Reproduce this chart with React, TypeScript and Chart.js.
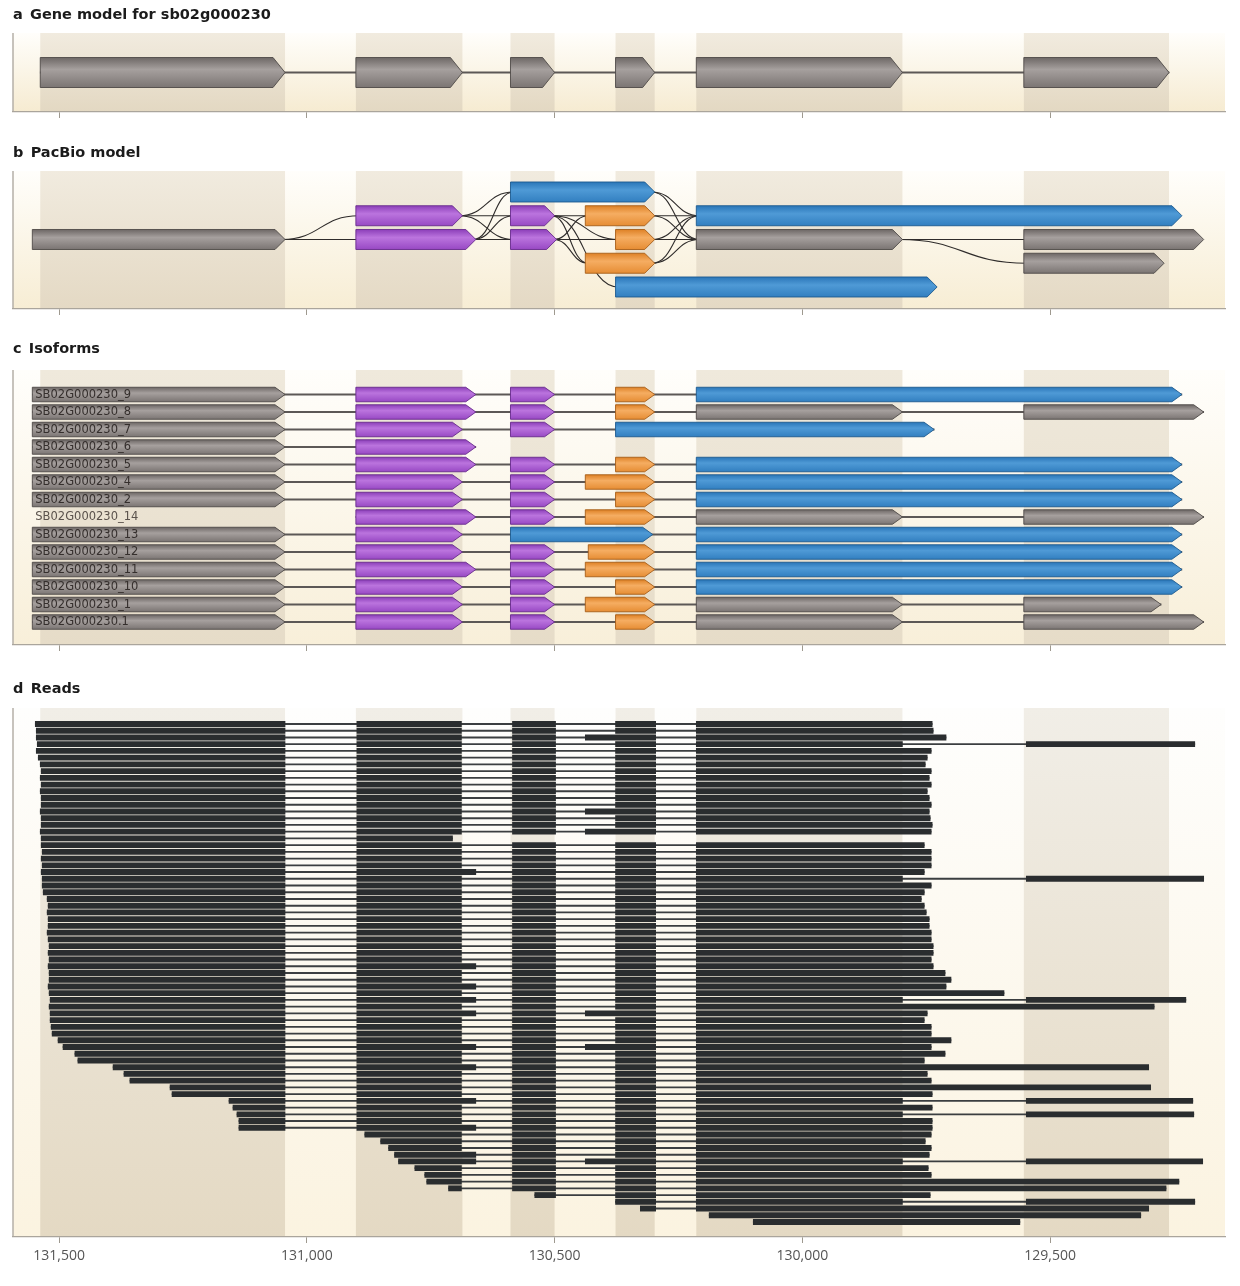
import { useEffect, useRef } from "react";
import { Chart, registerables } from "chart.js";

Chart.register(...registerables);

// genomic window (bp), axis runs high -> low
const X_MIN = 129147;
const X_MAX = 131593;
const tickValues = [131500, 131000, 130500, 130000, 129500];

// a: gene model exons [start, end]
const geneExons = [
  [131538, 131044],
  [130901, 130686],
  [130589, 130500],
  [130377, 130298],
  [130214, 129798],
  [129553, 129260],
];

// b: PacBio splice graph, [start, end, row]
const pacGray = [
  [131554, 131044, 2],
  [130214, 129798, 2],
  [129553, 129190, 2],
  [129553, 129270, 3],
];
const pacPurple = [
  [130901, 130686, 1],
  [130589, 130500, 1],
  [130901, 130659, 2],
  [130589, 130496, 2],
];
const pacOrange = [
  [130438, 130298, 1],
  [130377, 130298, 2],
  [130438, 130298, 3],
];
const pacBlue = [
  [130589, 130298, 0],
  [130214, 129234, 1],
  [130377, 129728, 4],
];
// junctions [fromBp, fromRow, toBp, toRow]
const pacLinks = [
  [131044, 2, 130901, 1],
  [131044, 2, 130901, 2],
  [130686, 1, 130589, 0],
  [130686, 1, 130589, 1],
  [130686, 1, 130589, 2],
  [130659, 2, 130589, 0],
  [130659, 2, 130589, 1],
  [130659, 2, 130589, 2],
  [130500, 1, 130438, 1],
  [130500, 1, 130377, 2],
  [130500, 1, 130438, 3],
  [130500, 1, 130377, 4],
  [130496, 2, 130438, 1],
  [130496, 2, 130377, 2],
  [130496, 2, 130438, 3],
  [130298, 0, 130214, 1],
  [130298, 0, 130214, 2],
  [130298, 1, 130214, 1],
  [130298, 1, 130214, 2],
  [130298, 2, 130214, 1],
  [130298, 2, 130214, 2],
  [130298, 3, 130214, 1],
  [130298, 3, 130214, 2],
  [129798, 2, 129553, 2],
  [129798, 2, 129553, 3],
];

// c: isoforms
const isoformNames = [
  "SB02G000230_9",
  "SB02G000230_8",
  "SB02G000230_7",
  "SB02G000230_6",
  "SB02G000230_5",
  "SB02G000230_4",
  "SB02G000230_2",
  "SB02G000230_14",
  "SB02G000230_13",
  "SB02G000230_12",
  "SB02G000230_11",
  "SB02G000230_10",
  "SB02G000230_1",
  "SB02G000230.1",
];
const isoGray = [
  [131554, 131044, 0], [131554, 131044, 1], [131554, 131044, 2], [131554, 131044, 3],
  [131554, 131044, 4], [131554, 131044, 5], [131554, 131044, 6], [131554, 131044, 8],
  [131554, 131044, 9], [131554, 131044, 10], [131554, 131044, 11], [131554, 131044, 12],
  [131554, 131044, 13],
  [130214, 129798, 1], [129553, 129190, 1],
  [130214, 129798, 7], [129553, 129190, 7],
  [130214, 129798, 12], [129553, 129276, 12],
  [130214, 129798, 13], [129553, 129190, 13],
];
const isoPurple = [
  [130901, 130659, 0], [130589, 130500, 0],
  [130901, 130659, 1], [130589, 130500, 1],
  [130901, 130686, 2], [130589, 130500, 2],
  [130901, 130659, 3],
  [130901, 130659, 4], [130589, 130500, 4],
  [130901, 130686, 5], [130589, 130500, 5],
  [130901, 130686, 6], [130589, 130500, 6],
  [130901, 130659, 7], [130589, 130500, 7],
  [130901, 130686, 8],
  [130901, 130686, 9], [130589, 130500, 9],
  [130901, 130659, 10], [130589, 130500, 10],
  [130901, 130686, 11], [130589, 130500, 11],
  [130901, 130686, 12], [130589, 130500, 12],
  [130901, 130686, 13], [130589, 130500, 13],
];
const isoOrange = [
  [130377, 130298, 0], [130377, 130298, 1], [130377, 130298, 4], [130438, 130298, 5],
  [130377, 130298, 6], [130438, 130298, 7], [130432, 130298, 9], [130438, 130298, 10],
  [130377, 130298, 11], [130438, 130298, 12], [130377, 130298, 13],
];
const isoBlue = [
  [130214, 129234, 0], [130377, 129734, 2], [130214, 129234, 4], [130214, 129234, 5],
  [130214, 129234, 6], [130589, 130302, 8], [130214, 129234, 8], [130214, 129234, 9],
  [130214, 129234, 10], [130214, 129234, 11],
];

// d: reads, one per row (top to bottom)
const readStarts = [
  131548, 131546, 131546, 131544, 131546, 131542, 131538, 131536, 131538, 131536,
  131538, 131536, 131536, 131538, 131536, 131536, 131538, 131536, 131536, 131534,
  131536, 131534, 131536, 131534, 131534, 131532, 131524, 131522, 131524, 131522,
  131522, 131524, 131522, 131520, 131522, 131520, 131522, 131520, 131520, 131522,
  131520, 131518, 131520, 131518, 131518, 131516, 131514, 131502, 131492, 131468,
  131462, 131391, 131369, 131357, 131276, 131272, 131157, 131149, 131141, 131137,
  131137, 130883, 130851, 130835, 130823, 130815, 130782, 130762, 130758, 130714,
  130540, 130377, 130327, 130188, 130099,
];
const readEnds = [
  129738, 129736, 129710, 129208, 129740, 129748, 129752, 129740, 129744, 129740,
  129748, 129744, 129740, 129744, 129742, 129738, 129740, 130706, 129754, 129740,
  129740, 129740, 129754, 129190, 129740, 129754, 129760, 129754, 129750, 129744,
  129744, 129740, 129740, 129736, 129736, 129740, 129736, 129712, 129700, 129710,
  129593, 129226, 129290, 129748, 129754, 129740, 129740, 129700, 129740, 129712,
  129754, 129301, 129748, 129740, 129297, 129738, 129212, 129738, 129210, 129738,
  129738, 129740, 129752, 129740, 129744, 129192, 129746, 129740, 129240, 129266,
  129742, 129208, 129301, 129317, 129561,
];
// read exon template and per-read alternatives
const readExons = [
  [131600, 131044],
  [130899, 130688],
  [130585, 130498],
  [130377, 130296],
  [130214, 129798],
  [129548, 129100],
];
const longDonorRows = [22, 36, 39, 41, 43, 48, 51, 56, 60, 64, 65]; // exon 2 ends at 130,659
const longAcceptorRows = [2, 13, 16, 43, 48, 65]; // exon 4 starts at 130,438
const splicedRows = [3, 23, 41, 56, 58, 65, 71]; // last intron spliced out

const GRAY = ["#6d6765", "#a6a09e", "#7b7573", "#4e4947"];
const PURPLE = ["#8c3fb9", "#bb74de", "#9849c4", "#682a8c"];
const ORANGE = ["#de8126", "#f5ad62", "#e68d34", "#a65d18"];
const BLUE = ["#2a76b8", "#4f9ad6", "#327fc0", "#1d5a8f"];

const bars = (list: number[][]) => list.map(([a, b, r]) => ({ x: [a, b], y: r }));

function rowSpans(lists: number[][][], rows: number) {
  const out: { x: number[]; y: number }[] = [];
  for (let r = 0; r < rows; r++) {
    const all = lists.flat().filter((e) => e[2] === r);
    if (!all.length) continue;
    out.push({ x: [Math.max(...all.map((e) => e[0])), Math.min(...all.map((e) => e[1]))], y: r });
  }
  return out;
}

function readBlocks() {
  const out: { x: number[]; y: number }[] = [];
  readStarts.forEach((s, i) => {
    const e = readEnds[i];
    const spliced = splicedRows.includes(i);
    readExons.forEach(([a, b], k) => {
      if (k === 1 && longDonorRows.includes(i)) b = 130659;
      if (k === 3 && longAcceptorRows.includes(i)) a = 130438;
      if (k === 4 && !spliced) b = e;
      if (k === 5 && !spliced) return;
      const l = Math.min(a, s);
      const r = Math.max(b, e);
      if (l > r) out.push({ x: [l, r], y: i });
    });
  });
  return out;
}

const backdrop = {
  id: "backdrop",
  beforeDraw(chart: any, _a: any, o: any) {
    const { ctx, chartArea: ca } = chart;
    const xs = chart.scales.x;
    ctx.save();
    const bg = ctx.createLinearGradient(0, ca.top, 0, ca.bottom);
    bg.addColorStop(0, o.bg[0]);
    bg.addColorStop(1, o.bg[1]);
    ctx.fillStyle = bg;
    ctx.fillRect(ca.left, ca.top, ca.right - ca.left, ca.bottom - ca.top);
    const col = ctx.createLinearGradient(0, ca.top, 0, ca.bottom);
    col.addColorStop(0, o.col[0]);
    col.addColorStop(1, o.col[1]);
    ctx.fillStyle = col;
    geneExons.forEach(([a, b]) => {
      const x1 = xs.getPixelForValue(a);
      const x2 = xs.getPixelForValue(b);
      ctx.fillRect(Math.min(x1, x2), ca.top, Math.abs(x2 - x1), ca.bottom - ca.top);
    });
    ctx.strokeStyle = "#b4afa7";
    ctx.lineWidth = 1.5;
    ctx.beginPath();
    ctx.moveTo(ca.left, ca.top);
    ctx.lineTo(ca.left, ca.bottom);
    ctx.stroke();
    ctx.restore();
  },
};

const arrows = {
  id: "arrows",
  beforeDatasetDraw(chart: any, args: any) {
    const ds = chart.data.datasets[args.index];
    if (!ds.arrow) return;
    const ctx = chart.ctx;
    const pal = ds.arrow;
    ctx.save();
    for (const el of args.meta.data) {
      const left = Math.min(el.x, el.base);
      const right = Math.max(el.x, el.base);
      const h = el.height;
      const top = el.y - h / 2;
      const bot = el.y + h / 2;
      const tip = Math.min(ds.tip, (right - left) * 0.5);
      ctx.beginPath();
      ctx.moveTo(left, top);
      ctx.lineTo(right - tip, top);
      ctx.lineTo(right, el.y);
      ctx.lineTo(right - tip, bot);
      ctx.lineTo(left, bot);
      ctx.closePath();
      const g = ctx.createLinearGradient(0, top, 0, bot);
      g.addColorStop(0, pal[0]);
      g.addColorStop(0.4, pal[1]);
      g.addColorStop(1, pal[2]);
      ctx.fillStyle = g;
      ctx.fill();
      ctx.lineWidth = 0.9;
      ctx.strokeStyle = pal[3];
      ctx.stroke();
    }
    ctx.restore();
    return false;
  },
};

const junctions = {
  id: "junctions",
  beforeDatasetsDraw(chart: any, _a: any, o: any) {
    if (!o.links) return;
    const { ctx } = chart;
    const xs = chart.scales.x;
    const ys = chart.scales.y;
    ctx.save();
    ctx.strokeStyle = "#2f2c2b";
    ctx.lineWidth = 1.1;
    for (const [a, ra, b, rb] of o.links) {
      const x1 = xs.getPixelForValue(a);
      const y1 = ys.getPixelForValue(ra);
      const x2 = xs.getPixelForValue(b);
      const y2 = ys.getPixelForValue(rb);
      const m = (x2 - x1) * 0.5;
      ctx.beginPath();
      ctx.moveTo(x1 - 3, y1);
      ctx.bezierCurveTo(x1 + m, y1, x2 - m, y2, x2 + 3, y2);
      ctx.stroke();
    }
    ctx.restore();
  },
};

const rowLabels = {
  id: "rowLabels",
  afterDatasetsDraw(chart: any, _a: any, o: any) {
    if (!o.names) return;
    const { ctx } = chart;
    const xs = chart.scales.x;
    const ys = chart.scales.y;
    ctx.save();
    ctx.font = "11.5px 'DejaVu Sans'";
    ctx.textBaseline = "middle";
    o.names.forEach((n: string, r: number) => {
      ctx.fillStyle = o.bare.includes(r) ? "#5a524c" : "#352f2d";
      ctx.fillText(n, xs.getPixelForValue(o.at) + 3, ys.getPixelForValue(r) + 0.5);
    });
    ctx.restore();
  },
};

function xAxis(showLabels: boolean, height: number) {
  return {
    type: "linear",
    min: X_MIN,
    max: X_MAX,
    reverse: true,
    offset: false,
    afterBuildTicks: (s: any) => {
      s.ticks = tickValues.map((v) => ({ value: v }));
    },
    afterFit: (s: any) => {
      s.height = height;
    },
    grid: { drawOnChartArea: false, drawTicks: true, tickLength: 6, color: "#9e998f", lineWidth: 1 },
    border: { display: true, color: "#aaa59c", width: 1.3 },
    ticks: {
      display: showLabels,
      padding: 5,
      color: "#555",
      font: { family: "'Open Sans'", size: 14 },
      callback: (v: any) => Number(v).toLocaleString("en-US"),
    },
  };
}

function baseConfig(title: string, pad: number[], yMin: number, yMax: number, reverse: boolean, axis: any, bg: any, datasets: any[], extra: any = {}) {
  return {
    type: "bar",
    data: { datasets },
    plugins: [backdrop, junctions, arrows, rowLabels],
    options: {
      indexAxis: "y",
      responsive: false,
      animation: false,
      events: [],
      layout: { padding: { left: 13, right: 15, top: 0, bottom: 0 } },
      datasets: { bar: { grouped: false, borderWidth: 0 } },
      scales: {
        x: axis,
        y: { type: "linear", display: false, offset: false, min: yMin, max: yMax, reverse },
      },
      plugins: {
        legend: { display: false },
        tooltip: { enabled: false },
        title: {
          display: true,
          text: title,
          align: "start",
          color: "#1b1b1b",
          font: { family: "'DejaVu Sans'", size: 14.5, weight: "bold", lineHeight: 1.2 },
          padding: { top: pad[0], bottom: pad[1] },
        },
        backdrop: bg,
        ...extra,
      },
    },
  };
}

function Panel({ top, height, make }: { top: number; height: number; make: () => any }) {
  const ref = useRef<HTMLCanvasElement | null>(null);
  useEffect(() => {
    if (!ref.current) return;
    const chart = new Chart(ref.current, make());
    return () => chart.destroy();
  }, []);
  return (
    <div style={{ position: "absolute", left: 0, top, width: 1240, height }}>
      <canvas ref={ref} width={1240} height={height} style={{ width: 1240, height }} />
    </div>
  );
}

const intronColor = "#5c5856";

const makeA = () =>
  baseConfig("a\u2002Gene model for sb02g000230", [7, 8.6], -1, 1, false, xAxis(false, 10),
    { bg: ["#fffefb", "#f6ebd1"], col: ["#f1ebdf", "#e3d8c2"] },
    [
      { data: [{ x: [geneExons[0][0], geneExons[5][1]], y: 0 }], backgroundColor: intronColor, barThickness: 1.4, order: 1 },
      { data: bars(geneExons.map(([a, b]) => [a, b, 0])), arrow: GRAY, tip: 12, barThickness: 30, order: 0 },
    ]);

const makeB = () =>
  baseConfig("b\u2002PacBio model", [15, 8.6], -0.884, 4.927, true, xAxis(false, 10),
    { bg: ["#fffefb", "#f7edd4"], col: ["#f1ebdf", "#e4d9c4"] },
    [
      { data: bars(pacGray), arrow: GRAY, tip: 10, barThickness: 20 },
      { data: bars(pacPurple), arrow: PURPLE, tip: 10, barThickness: 20 },
      { data: bars(pacOrange), arrow: ORANGE, tip: 10, barThickness: 20 },
      { data: bars(pacBlue), arrow: BLUE, tip: 10, barThickness: 20 },
    ],
    { junctions: { links: pacLinks } });

const makeC = () =>
  baseConfig("c\u2002Isoforms", [16, 11.6], -1.4, 14.314, true, xAxis(false, 10),
    { bg: ["#fffefb", "#f8efd9"], col: ["#efe9dc", "#e6dcc8"] },
    [
      { data: rowSpans([isoGray, isoPurple, isoOrange, isoBlue], isoformNames.length), backgroundColor: intronColor, barThickness: 1.2, order: 1 },
      { data: bars(isoGray), arrow: GRAY, tip: 10, barThickness: 14.5, order: 0 },
      { data: bars(isoPurple), arrow: PURPLE, tip: 10, barThickness: 14.5, order: 0 },
      { data: bars(isoOrange), arrow: ORANGE, tip: 10, barThickness: 14.5, order: 0 },
      { data: bars(isoBlue), arrow: BLUE, tip: 10, barThickness: 14.5, order: 0 },
    ],
    { rowLabels: { names: isoformNames, at: 131554, bare: [7] } });

const makeD = () =>
  baseConfig("d\u2002Reads", [16, 9.6], -2.377, 76.23, true, xAxis(true, 49),
    { bg: ["#fefefd", "#fbf3e0"], col: ["#f1eee7", "#e4d9c3"] },
    [
      { data: readStarts.map((s, i) => ({ x: [s, readEnds[i]], y: i })), backgroundColor: "#3b3e40", barThickness: 1.2, order: 1 },
      { data: readBlocks(), backgroundColor: "#2a2d2f", barThickness: 5.2, order: 0 },
    ]);

export default function App() {
  return (
    <div style={{ position: "absolute", left: 0, top: 0, width: 1240, height: 1286, background: "#fff" }}>
      <Panel top={0} height={122} make={makeA} />
      <Panel top={130} height={189} make={makeB} />
      <Panel top={325} height={330} make={makeC} />
      <Panel top={665} height={621} make={makeD} />
    </div>
  );
}
